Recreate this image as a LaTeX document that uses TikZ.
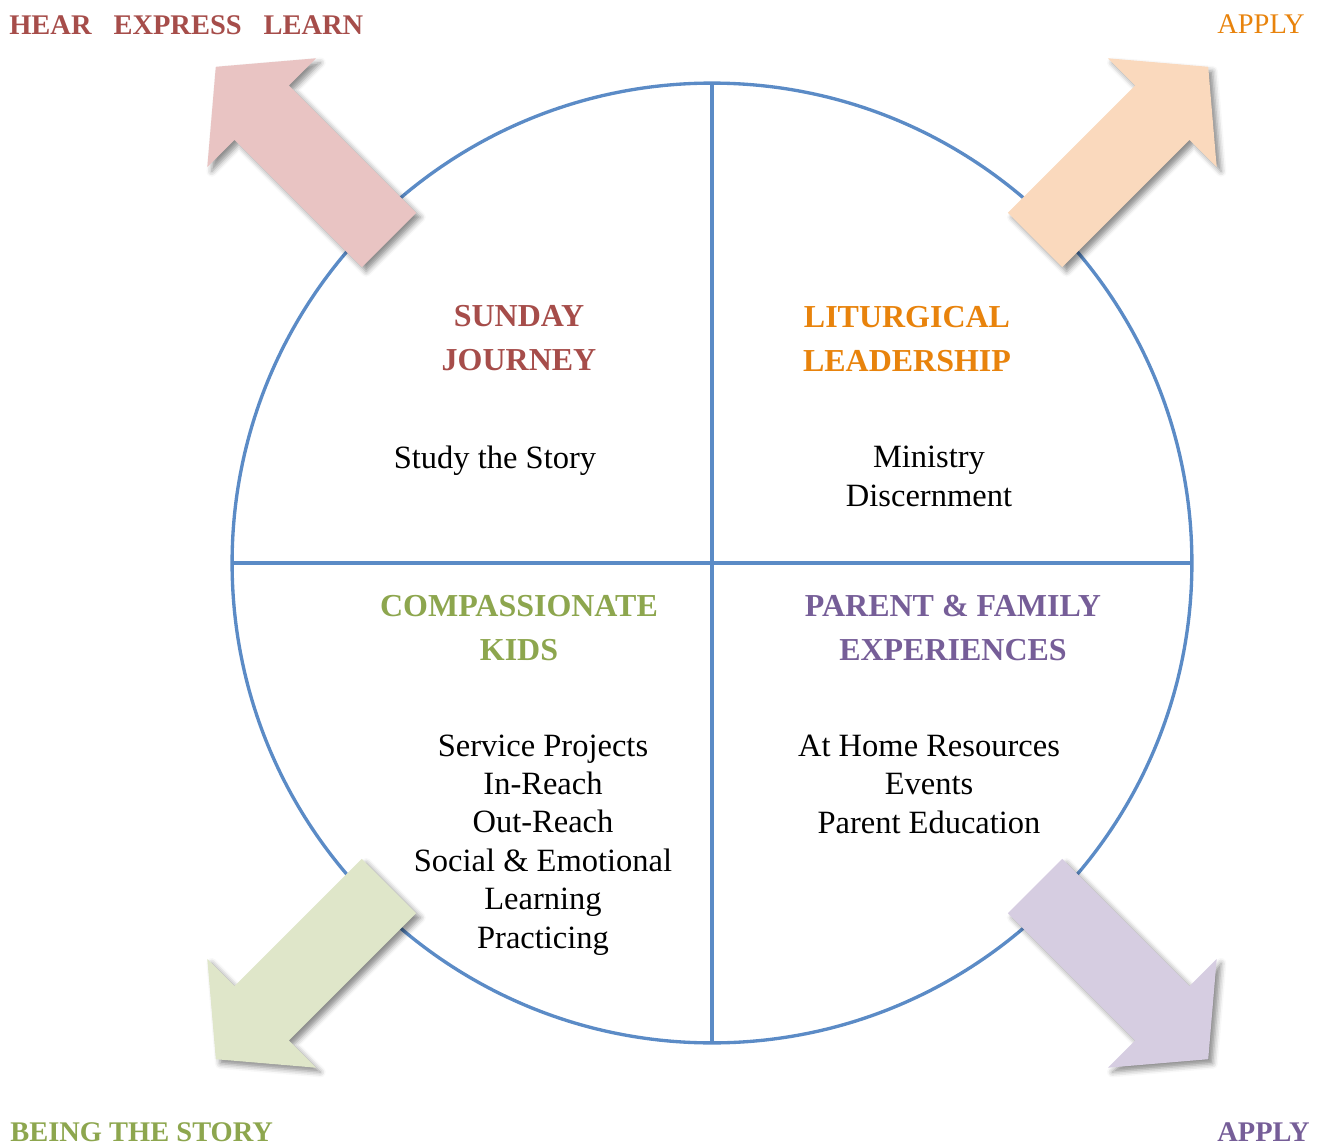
\documentclass[tikz,border=0pt]{standalone}
\usepackage{fontspec}
\setmainfont{Liberation Serif}
\usetikzlibrary{shadows.blur}
\definecolor{ringblue}{HTML}{5B8BC6}
\definecolor{titlered}{HTML}{A64D4A}
\definecolor{titleorange}{HTML}{E8830C}
\definecolor{titlegreen}{HTML}{8DA64E}
\definecolor{titlepurple}{HTML}{765E98}
\definecolor{pinkarrow}{HTML}{E9C4C3}
\definecolor{peacharrow}{HTML}{FAD9BD}
\definecolor{greenarrow}{HTML}{DFE6C9}
\definecolor{purplearrow}{HTML}{D6CDE1}
\begin{document}
\begin{tikzpicture}[x=0.02cm,y=-0.02cm]
          \tikzstyle{title}=[font=\fontsize{18.2}{24.5}\selectfont\bfseries, align=center, anchor=base, inner sep=0pt];
          \tikzstyle{body}=[font=\fontsize{18.5}{21.85}\selectfont, align=center, anchor=base, inner sep=0pt];
          \tikzstyle{corner}=[font=\fontsize{16.2}{20}\selectfont, inner sep=0pt];
          \tikzstyle{cornerbold}=[font=\fontsize{16.2}{20}\selectfont\bfseries, inner sep=0pt, text depth=0pt];
          \tikzstyle{ringline}=[ringblue, line width=1.9pt];
          %\node (name) at (x,y) [style] {text}; -- base is the last line
          \useasboundingbox (0,0) rectangle (1320,1146);
          % ring and cross
          \node[ringline, draw, circle, minimum size=19.2cm, inner sep=0pt, outer sep=0pt] (ring) at (712,563) {};
          \draw[ringline] (ring.north)--(ring.south);
          \draw[ringline] (ring.west)--(ring.east);
          % the four arrows
          \foreach \sx/\sy/\col in {-1/-1/pinkarrow, 1/-1/peacharrow, -1/1/greenarrow, 1/1/purplearrow}
            \fill[\col, blur shadow={shadow xshift=2.5pt, shadow yshift=-2.5pt, shadow blur radius=3pt, shadow opacity=45}]
              ({712+\sx*295.8},{563+\sy*350.2}) -- ({712+\sx*423.1},{563+\sy*477.5})
              -- ({712+\sx*395.9},{563+\sy*504.7}) -- ({712+\sx*496.2},{563+\sy*496.2})
              -- ({712+\sx*504.7},{563+\sy*395.9}) -- ({712+\sx*477.5},{563+\sy*423.1})
              -- ({712+\sx*350.2},{563+\sy*295.8}) -- cycle;
          % corner labels
          \node[cornerbold, anchor=base west, titlered] (hear) at (9,34) {HEAR\hspace{0.44cm}EXPRESS\hspace{0.44cm}LEARN};
          \node[corner, anchor=base east, titleorange] (applytop) at (1305,33) {APPLY};
          \node[cornerbold, anchor=base west, titlegreen] (being) at (10,1141) {BEING THE STORY};
          \node[cornerbold, anchor=base east, titlepurple] (applybottom) at (1310,1141) {APPLY};
          % quadrants
          \node[title, titlered] (sunday) at (519,370) {SUNDAY\\JOURNEY};
          \node[body] (sundaynote) at (495,468) {Study the Story};
          \node[title, titleorange] (liturgy) at (907,371) {LITURGICAL\\LEADERSHIP};
          \node[body] (liturgynote) at (929,506) {Ministry\\Discernment};
          \node[title, titlegreen] (kids) at (519,660) {COMPASSIONATE\\KIDS};
          \node[body] (kidsnote) at (543,948) {Service Projects\\In-Reach\\Out-Reach\\Social \& Emotional\\Learning\\Practicing};
          \node[title, titlepurple] (family) at (953,660) {PARENT \& FAMILY\\EXPERIENCES};
          \node[body] (familynote) at (929,833) {At Home Resources\\Events\\Parent Education};
      \end{tikzpicture}
\end{document}
